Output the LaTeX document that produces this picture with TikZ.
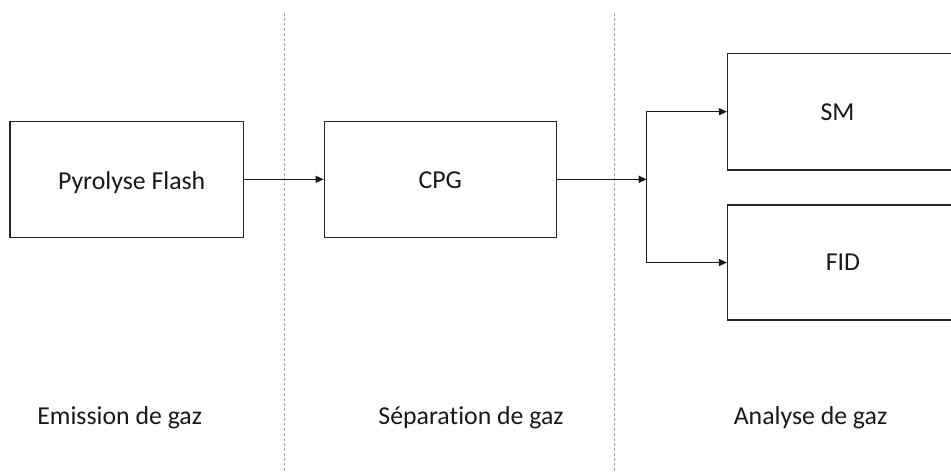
\documentclass[tikz,border=0pt]{standalone}
\usepackage{fontspec}
\setmainfont{Carlito}[Ligatures=NoCommon]
\usetikzlibrary{arrows.meta}
\tikzset{
  box/.style={draw=black!85, line width=1.5pt, rectangle, inner sep=0pt, fill=white},
  conn/.style={draw=black!90, line width=1.3pt, -{Triangle[length=8pt,width=7pt]}},
  sep/.style={draw=black!35, line width=0.9pt, dash pattern=on 3pt off 2pt},
  lbl/.style={anchor=base, inner sep=0pt, font=\fontsize{25.8}{30}\selectfont, text=black!90}
}
\begin{document}
\begin{tikzpicture}[x=1pt,y=-1pt]
\useasboundingbox (0,0) rectangle (951,473);
\clip (0,0) rectangle (951,473);
% separators
\coordinate (s1t) at (284.3,13);
\coordinate (s1b) at (284.3,473);
\coordinate (s2t) at (614.3,13);
\coordinate (s2b) at (614.3,473);
\draw[sep] (s1t) -- (s1b);
\draw[sep] (s2t) -- (s2b);
% boxes
\node[box, minimum width=233.3pt, minimum height=116pt] (pyro) at (126.7,179.3) {};
\node[lbl] (pyrot) at (131.7,189.5) {Pyrolyse Flash};
\node[box, minimum width=232.4pt, minimum height=116pt] (cpg) at (440.5,179.3) {};
\node[lbl] (cpgt) at (440.3,188.5) {CPG};
\node[box, minimum width=227pt, minimum height=116.7pt] (sm) at (841.2,111.7) {};
\node[lbl] (smt) at (837.5,120.3) {SM};
\node[box, minimum width=227pt, minimum height=115pt] (fid) at (841.2,262.5) {};
\node[lbl] (fidt) at (843,271) {FID};
% connectors
\coordinate (j) at (646.7,179.3);
\draw[conn] (pyro.east) -- (cpg.west);
\draw[conn] (cpg.east) -- (j);
\draw[conn] (j) |- (sm.west);
\draw[conn] (j) |- (fid.west);
% phase labels
\node[lbl] (l1) at (119.7,424) {Emission de gaz};
\node[lbl] (l2) at (471,424) {Séparation de gaz};
\node[lbl] (l3) at (810.5,424) {Analyse de gaz};
\end{tikzpicture}
\end{document}
